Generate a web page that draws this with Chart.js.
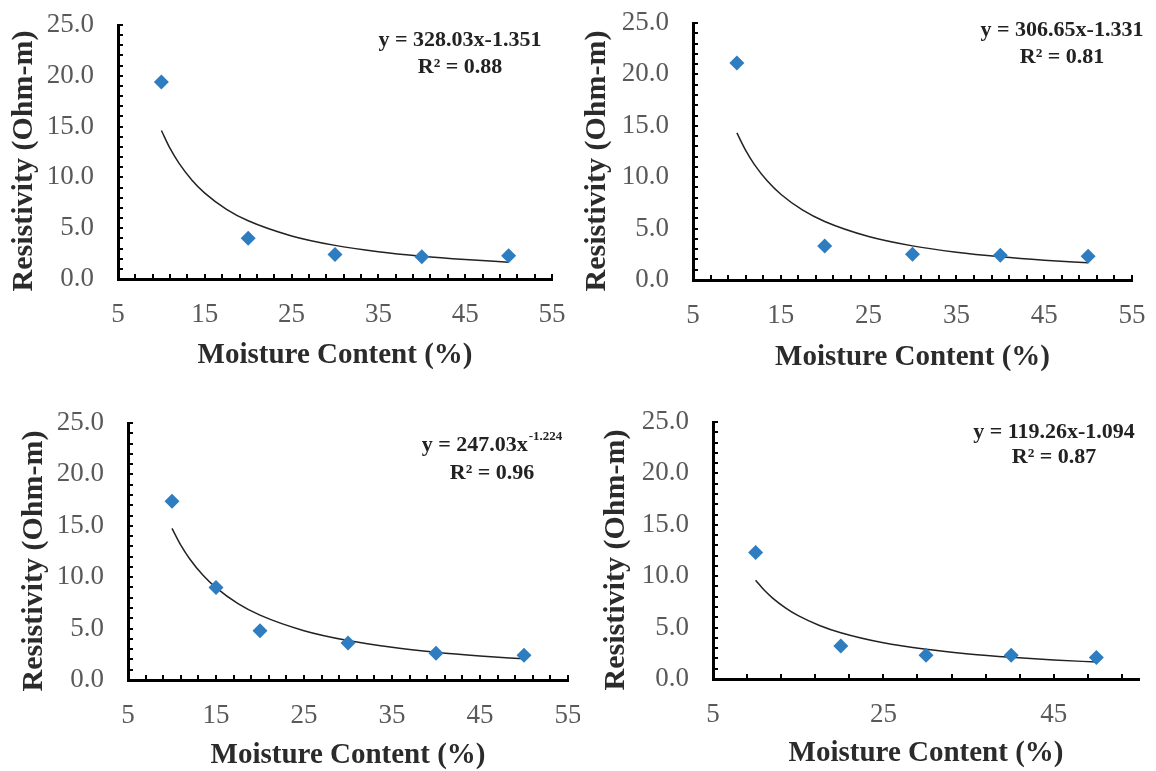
<!DOCTYPE html>
<html>
<head>
<meta charset="utf-8">
<title>Resistivity vs Moisture Content</title>
<script src="https://cdn.jsdelivr.net/npm/chart.js@4.4.1/dist/chart.umd.min.js"></script>
<style>
  html, body { margin: 0; padding: 0; background: #fff; }
  #wrap { position: relative; width: 1156px; height: 771px; overflow: hidden; }
  canvas { position: absolute; }
</style>
</head>
<body>
<div id="wrap">
  <canvas id="c0" width="580" height="385" style="left:0;top:0"></canvas>
  <canvas id="c1" width="576" height="385" style="left:580px;top:0"></canvas>
  <canvas id="c2" width="580" height="381" style="left:0;top:390px"></canvas>
  <canvas id="c3" width="576" height="381" style="left:580px;top:390px"></canvas>
</div>
<script>
  // ---- datos ----
  const moistureA = [10, 20, 30, 40, 50];
  const resistA   = [19.4, 4.0, 2.4, 2.2, 2.3];
  const moistureB = [10, 20, 30, 40, 50];
  const resistB   = [21.1, 3.3, 2.5, 2.4, 2.3];
  const moistureC = [10, 15, 20, 30, 40, 50];
  const resistC   = [17.4, 9.0, 4.8, 3.6, 2.6, 2.4];
  const moistureD = [10, 20, 30, 40, 50];
  const resistD   = [12.3, 3.2, 2.3, 2.3, 2.1];

  // línea de tendencia (potencial)
  const trendX  = [10, 11, 12, 13.5, 15, 17.5, 20, 25, 30, 35, 40, 45, 50];
  const trendA  = [14.62, 12.85, 11.43, 9.75, 8.45, 6.86, 5.73, 4.24, 3.31, 2.69, 2.25, 1.92, 1.66];
  const trendB  = [14.31, 12.61, 11.23, 9.60, 8.34, 6.79, 5.69, 4.23, 3.32, 2.70, 2.26, 1.93, 1.68];
  const trendC  = [14.75, 13.12, 11.80, 10.21, 8.98, 7.43, 6.31, 4.80, 3.84, 3.18, 2.70, 2.34, 2.06];
  const trendD  = [9.61, 8.65, 7.87, 6.92, 6.16, 5.21, 4.50, 3.52, 2.89, 2.44, 2.11, 1.85, 1.65];

  // ejes
  const xTicksWide = [5, 15, 25, 35, 45, 55];
  const xTicksD    = [5, 25, 45];
  const yTicks     = [0, 5, 10, 15, 20, 25];
  const xMinorStep = [2, 2, 2, 4];
  const yMinorStep = 1;

  // textos
  const xTitle = "Moisture Content (%)";
  const yTitle = "Resistivity (Ohm-m)";
  const eqMain = ["y = 328.03x-1.351", "y = 306.65x-1.331", "y = 247.03x", "y = 119.26x-1.094"];
  const eqSup  = ["", "", "-1.224", ""];
  const r2Text = ["R² = 0.88", "R² = 0.81", "R² = 0.96", "R² = 0.87"];

  // ---- layout por panel (px dentro de cada canvas) ----
  // yw: ancho eje Y, xh: alto eje X, pt/pr: padding, yt: centro título Y, eq: centro ecuación
  const layouts = [
    { yw: 118, xh: 106, pt: 25, pr: 28, xTitlePad: 15, yt: [24, 161], eq: [460, 40, 67] },
    { yw: 113, xh: 105, pt: 23, pr: 24, xTitlePad: 13, yt: [17, 161], eq: [482, 30, 57] },
    { yw: 128, xh: 91,  pt: 33, pr: 12, xTitlePad: 1,  yt: [34, 171], eq: [492, 55, 83] },
    { yw: 133, xh: 92,  pt: 32, pr: 17, xTitlePad: 3,  yt: [36, 170], eq: [474, 42, 67] }
  ];

  const SERIF = "'Liberation Serif', 'Times New Roman', serif";
  const MARK = "#2E7DC0";

  function toPoints(xs, ys) {
    return xs.map((x, i) => ({ x: x, y: ys[i] }));
  }

  // ticks menores hacia dentro, título Y y ecuación
  const extrasPlugin = {
    id: "extras",
    afterDraw(chart) {
      const ctx = chart.ctx;
      const xs = chart.scales.x, ys = chart.scales.y;
      const idx = chart.options.plugins.extras.idx;
      const ca = chart.chartArea;
      const lay = layouts[idx];
      const len = 5;

      ctx.save();
      ctx.strokeStyle = "#000";
      ctx.lineWidth = 2;
      for (let v = xs.min; v <= xs.max + 1e-9; v += xMinorStep[idx]) {
        const px = Math.round(xs.getPixelForValue(v));
        ctx.beginPath();
        ctx.moveTo(px, ca.bottom);
        ctx.lineTo(px, ca.bottom - len);
        ctx.stroke();
      }
      for (let v = ys.min; v <= ys.max + 1e-9; v += yMinorStep) {
        const py = Math.round(ys.getPixelForValue(v));
        ctx.beginPath();
        ctx.moveTo(ca.left, py);
        ctx.lineTo(ca.left + len, py);
        ctx.stroke();
      }

      // título del eje Y
      ctx.save();
      ctx.translate(lay.yt[0], lay.yt[1]);
      ctx.rotate(-Math.PI / 2);
      ctx.font = "bold 30px " + SERIF;
      ctx.fillStyle = "#2b2b2b";
      ctx.textAlign = "center";
      ctx.textBaseline = "middle";
      ctx.fillText(yTitle, 0, 0);
      ctx.restore();

      // ecuación de tendencia
      ctx.fillStyle = "#222";
      ctx.textBaseline = "middle";
      const mainFont = "bold 22px " + SERIF;
      const supFont = "bold 13px " + SERIF;
      ctx.font = mainFont;
      const wMain = ctx.measureText(eqMain[idx]).width;
      ctx.font = supFont;
      const wSup = eqSup[idx] ? ctx.measureText(eqSup[idx]).width + 1 : 0;
      const startX = lay.eq[0] - (wMain + wSup) / 2;
      ctx.textAlign = "left";
      ctx.font = mainFont;
      ctx.fillText(eqMain[idx], startX, lay.eq[1]);
      if (eqSup[idx]) {
        ctx.font = supFont;
        ctx.fillText(eqSup[idx], startX + wMain + 1, lay.eq[1] - 8);
      }
      ctx.font = mainFont;
      ctx.textAlign = "center";
      ctx.fillText(r2Text[idx], lay.eq[0], lay.eq[2]);
      ctx.restore();
    }
  };

  function makeChart(idx, xs, ys, tr, xTicks) {
    const lay = layouts[idx];
    const canvas = document.getElementById("c" + idx);
    return new Chart(canvas, {
      type: "scatter",
      data: {
        datasets: [
          {
            label: "Trend",
            data: toPoints(trendX, tr),
            showLine: true,
            borderColor: "#222",
            borderWidth: 1.5,
            pointRadius: 0,
            cubicInterpolationMode: "monotone",
            order: 1
          },
          {
            label: "Resistivity",
            data: toPoints(xs, ys),
            pointStyle: "rectRot",
            pointRadius: 7.5,
            backgroundColor: MARK,
            borderColor: MARK,
            borderWidth: 0,
            order: 0
          }
        ]
      },
      options: {
        responsive: false,
        animation: false,
        layout: { padding: { left: 0, top: lay.pt, right: lay.pr, bottom: 0 } },
        plugins: {
          legend: { display: false },
          tooltip: { enabled: false },
          extras: { idx: idx }
        },
        scales: {
          x: {
            type: "linear",
            min: xTicks[0],
            max: 55,
            afterBuildTicks: s => { s.ticks = xTicks.map(v => ({ value: v })); },
            afterFit: s => { s.height = lay.xh; s.paddingLeft = 0; s.paddingRight = 0; },
            grid: { display: true, drawOnChartArea: false, drawTicks: false },
            border: { color: "#000", width: 3 },
            ticks: {
              padding: 20,
              color: "#595959",
              font: { family: SERIF, size: 27 },
              maxRotation: 0
            },
            title: {
              display: true,
              text: xTitle,
              color: "#2b2b2b",
              font: { family: SERIF, size: 29, weight: "bold", lineHeight: 1 },
              padding: { top: 0, bottom: lay.xTitlePad }
            }
          },
          y: {
            type: "linear",
            min: 0,
            max: 25,
            afterBuildTicks: s => { s.ticks = yTicks.map(v => ({ value: v })); },
            afterFit: s => { s.width = lay.yw; s.paddingTop = 0; s.paddingBottom = 0; },
            grid: { display: true, drawOnChartArea: false, drawTicks: false },
            border: { color: "#000", width: 3 },
            ticks: {
              padding: 24,
              color: "#595959",
              font: { family: SERIF, size: 27 },
              callback: v => Number(v).toFixed(1)
            },
            title: { display: false, text: yTitle }
          }
        }
      },
      plugins: [extrasPlugin]
    });
  }

  makeChart(0, moistureA, resistA, trendA, xTicksWide);
  makeChart(1, moistureB, resistB, trendB, xTicksWide);
  makeChart(2, moistureC, resistC, trendC, xTicksWide);
  makeChart(3, moistureD, resistD, trendD, xTicksD);
</script>
</body>
</html>
